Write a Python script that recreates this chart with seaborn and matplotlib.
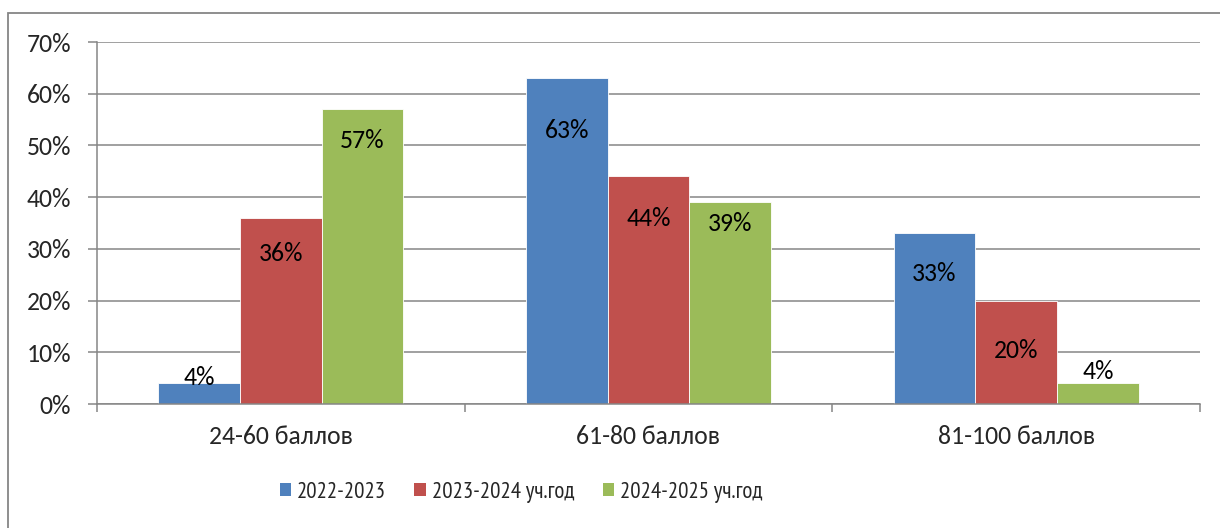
import pandas as pd
import numpy as np
import matplotlib
matplotlib.use('Agg')
import matplotlib.pyplot as plt
import seaborn as sns
from matplotlib.patches import Patch, Rectangle

# Datos
categorias = ['24-60 баллов', '61-80 баллов', '81-100 баллов']
series = ['2022-2023', '2023-2024 уч.год', '2024-2025 уч.год']
val_2022 = [4, 63, 33]
val_2023 = [36, 44, 20]
val_2024 = [57, 39, 4]
# altura (en %) del centro de cada etiqueta
etiq_2022 = [5.2, 52.8, 25.2]
etiq_2023 = [29.1, 35.8, 10.4]
etiq_2024 = [50.9, 34.9, 6.2]
y_ticks = [0, 10, 20, 30, 40, 50, 60, 70]

COLORES = ['#4F81BD', '#C0504D', '#9BBB59']
GRIS = '#868686'
FUENTE = 18.5

df = pd.DataFrame({
    'categoria': categorias * 3,
    'serie': [series[0]] * 3 + [series[1]] * 3 + [series[2]] * 3,
    'valor': val_2022 + val_2023 + val_2024,
})
etiquetas = [etiq_2022, etiq_2023, etiq_2024]
valores = [val_2022, val_2023, val_2024]

sns.set_theme(style='white')
plt.rcParams['font.family'] = ['Carlito', 'Lato', 'DejaVu Sans']

fig = plt.figure(figsize=(12.2, 5.28), dpi=100)
ax = fig.add_axes([97 / 1220, 1 - 404 / 528, (1200 - 97) / 1220, (404 - 42) / 528])

sns.barplot(data=df, x='categoria', y='valor', hue='serie', hue_order=series,
            order=categorias, palette=COLORES, width=0.667, saturation=1,
            edgecolor='white', linewidth=0.6, legend=False, ax=ax)

ax.set_ylim(0, 70)
ax.set_xlim(-0.5, 2.5)
ax.set_yticks(y_ticks)
ax.set_yticklabels([f'{t}%' for t in y_ticks], fontsize=FUENTE)
ax.yaxis.grid(True, color=GRIS, linewidth=1.1)
ax.set_axisbelow(True)

# ticks del eje X en los límites de categoría, etiquetas centradas
ax.set_xticks([-0.5, 0.5, 1.5, 2.5])
ax.set_xticklabels([])
ax.set_xticks([0, 1, 2], minor=True)
ax.set_xticklabels(categorias, minor=True, fontsize=FUENTE)
ax.tick_params(axis='x', which='major', length=5.5, width=1.1, color=GRIS, direction='out', bottom=True)
ax.tick_params(axis='x', which='minor', length=0, pad=15)
ax.tick_params(axis='y', length=6.5, width=1.1, color=GRIS, direction='out', left=True, pad=12)
ax.set_xlabel('')
ax.set_ylabel('')

for lado in ['top', 'right']:
    ax.spines[lado].set_visible(False)
for lado in ['left', 'bottom']:
    ax.spines[lado].set_color(GRIS)
    ax.spines[lado].set_linewidth(1.1)

# Etiquetas de datos
for cont, ys, vals in zip(ax.containers, etiquetas, valores):
    for barra, y, v in zip(cont, ys, vals):
        ax.text(barra.get_x() + barra.get_width() / 2, y, f'{v}%',
                ha='center', va='center', fontsize=FUENTE, color='black')

# Leyenda (el original tiene el texto comprimido)
handles = [Patch(facecolor=c, edgecolor='none') for c in COLORES]
fig.legend(handles, series, loc='center', bbox_to_anchor=(0.427, 0.068), ncol=3,
           frameon=False, handlelength=0.5, handleheight=0.5,
           handletextpad=0.25, columnspacing=1.25,
           prop={'family': ['PT Sans Narrow', 'Carlito'], 'size': 16.5})

# Marco del gráfico
fig.add_artist(Rectangle((8 / 1220, -0.2), 2, 0.2 + 1 - 13 / 528, transform=fig.transFigure,
                         fill=False, edgecolor=GRIS, linewidth=1.3))

fig.savefig('out.png', dpi=100)
